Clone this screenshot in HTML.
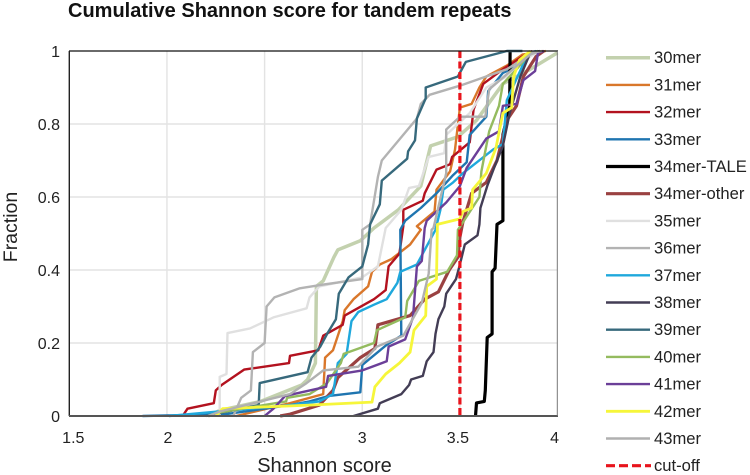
<!DOCTYPE html>
<html>
<head>
<meta charset="utf-8">
<style>
html,body{margin:0;padding:0;background:#fff;}
svg{display:block;}
text{font-family:"Liberation Sans",sans-serif;fill:#222;}
</style>
</head>
<body>
<svg id="chart" width="750" height="475" viewBox="0 0 750 475" xmlns="http://www.w3.org/2000/svg">
<text x="68" y="17" font-size="20" font-weight="bold" style="fill:#111">Cumulative Shannon score for tandem repeats</text>
<text x="324.5" y="472" font-size="20" text-anchor="middle">Shannon score</text>
<text transform="translate(17,227) rotate(-90)" font-size="19.5" text-anchor="middle">Fraction</text>
<g id="grid"></g>
<g id="series"></g>
<g id="frame"></g>
<g id="ticks"></g>
<g id="legend"></g>
</svg>
<script>
const xTicks = [1.5, 2, 2.5, 3, 3.5, 4];
const yTicks = [0, 0.2, 0.4, 0.6, 0.8, 1];
const cutoffValue = 3.5;
const labels = ["30mer","31mer","32mer","33mer","34mer-TALE","34mer-other","35mer","36mer","37mer","38mer","39mer","40mer","41mer","42mer","43mer"];
const mer30 = [[2.21,0],[2.27,.015],[2.48,.04],[2.69,.085],[2.72,.1],[2.76,.145],[2.765,.355],[2.8,.37],[2.855,.435],[2.875,.455],[2.99,.48],[3.06,.515],[3.185,.565],[3.3,.63],[3.35,.74],[3.49,.765],[3.585,.81],[3.72,.91],[3.86,.95],[4,.995]];
const mer31 = [[2.355,0],[2.45,.012],[2.63,.035],[2.8,.06],[2.81,.16],[2.85,.18],[2.9,.26],[2.91,.29],[2.955,.32],[3.03,.355],[3.05,.395],[3.09,.415],[3.15,.43],[3.245,.47],[3.3,.51],[3.28,.52],[3.37,.56],[3.38,.62],[3.45,.67],[3.475,.73],[3.5,.845],[3.56,.855],[3.6,.9],[3.635,.93],[3.74,.96],[3.82,.99],[3.94,1]];
const mer32 = [[2.08,0],[2.105,.02],[2.24,.035],[2.25,.07],[2.28,.085],[2.395,.127],[2.625,.145],[2.63,.165],[2.775,.18],[2.8,.22],[2.9,.25],[2.91,.275],[3.06,.32],[3.12,.345],[3.135,.41],[3.19,.445],[3.21,.52],[3.21,.565],[3.31,.59],[3.32,.61],[3.38,.675],[3.45,.69],[3.46,.71],[3.55,.75],[3.57,.84],[3.62,.91],[3.72,.95],[3.82,.985],[3.87,1]];
const mer33 = [[1.875,0],[2.3,.005],[2.63,.03],[2.73,.04],[2.83,.055],[2.99,.065],[3,.14],[3.125,.195],[3.2,.22],[3.195,.51],[3.22,.535],[3.3,.57],[3.38,.61],[3.465,.66],[3.535,.695],[3.55,.77],[3.635,.82],[3.645,.89],[3.72,.94],[3.82,.965],[3.86,.995],[3.89,1]];
const mer34tale = [[3.58,0],[3.585,.036],[3.625,.04],[3.63,.07],[3.64,.215],[3.665,.225],[3.665,.395],[3.68,.405],[3.69,.525],[3.72,.535],[3.72,.77],[3.755,.85],[3.757,1]];
const mer34other = [[2.58,0],[2.63,.005],[2.78,.03],[2.85,.07],[2.875,.105],[2.99,.16],[3.065,.185],[3.08,.25],[3.245,.275],[3.32,.32],[3.39,.34],[3.445,.4],[3.49,.435],[3.5,.49],[3.515,.53],[3.56,.61],[3.635,.64],[3.69,.7],[3.74,.81],[3.79,.85],[3.825,.93],[3.89,.985],[3.93,1]];
const mer35 = [[2.27,0],[2.27,.107],[2.305,.115],[2.31,.227],[2.425,.24],[2.545,.27],[2.715,.295],[2.73,.325],[2.78,.355],[3,.38],[3.04,.395],[3.08,.41],[3.12,.515],[3.2,.565],[3.24,.625],[3.29,.63],[3.34,.71],[3.42,.72],[3.43,.77],[3.55,.83],[3.635,.9],[3.74,.93],[3.86,.985],[3.91,1]];
const mer36 = [[2.34,0],[2.36,.025],[2.38,.05],[2.43,.07],[2.44,.175],[2.5,.2],[2.51,.3],[2.55,.325],[2.68,.35],[2.8,.36],[3,.375],[3,.51],[3.04,.525],[3.08,.655],[3.1,.7],[3.28,.815],[3.3,.855],[3.345,.88],[3.5,.905],[3.74,.95],[3.86,.99],[3.91,1]];
const mer37 = [[2.01,0],[2.63,.03],[2.78,.04],[2.85,.06],[2.875,.145],[2.92,.17],[2.945,.26],[2.98,.285],[3.06,.305],[3.125,.32],[3.18,.365],[3.195,.395],[3.28,.415],[3.375,.51],[3.4,.565],[3.415,.62],[3.465,.64],[3.515,.665],[3.67,.73],[3.72,.745],[3.74,.865],[3.825,.965],[3.86,.995],[3.9,1]];
const mer38 = [[2.955,0],[3.08,.02],[3.09,.035],[3.2,.06],[3.24,.085],[3.25,.1],[3.31,.11],[3.33,.15],[3.365,.175],[3.375,.225],[3.39,.265],[3.42,.3],[3.43,.335],[3.48,.375],[3.5,.415],[3.525,.47],[3.59,.495],[3.6,.525],[3.605,.57],[3.64,.63],[3.675,.68],[3.72,.74],[3.755,.83],[3.81,.93],[3.86,.995],[3.91,1]];
const mer39 = [[2.2,0],[2.47,.03],[2.475,.09],[2.72,.12],[2.74,.16],[2.785,.19],[2.82,.225],[2.865,.265],[2.88,.335],[2.93,.38],[3,.41],[3.03,.47],[3.04,.525],[3.09,.58],[3.1,.645],[3.23,.705],[3.235,.725],[3.27,.755],[3.28,.815],[3.325,.87],[3.325,.9],[3.49,.93],[3.53,.97],[3.74,1],[3.82,1]];
const mer40 = [[2.27,.01],[2.61,.04],[2.615,.05],[2.73,.06],[2.82,.09],[2.89,.145],[2.905,.17],[3.06,.2],[3.075,.235],[3.22,.27],[3.23,.315],[3.29,.37],[3.435,.395],[3.485,.44],[3.49,.51],[3.515,.53],[3.6,.6],[3.61,.67],[3.635,.74],[3.65,.78],[3.7,.85],[3.72,.91],[3.79,.95],[3.86,.995],[3.9,1]];
const mer41 = [[2.5,0],[2.545,.02],[2.605,.055],[2.815,.08],[2.825,.11],[3,.125],[3.125,.15],[3.135,.19],[3.22,.21],[3.26,.27],[3.28,.41],[3.305,.425],[3.32,.515],[3.33,.535],[3.43,.585],[3.5,.63],[3.535,.68],[3.635,.76],[3.7,.78],[3.72,.85],[3.79,.855],[3.825,.92],[3.885,.945],[3.9,.995],[3.93,1]];
const mer42 = [[2.25,0],[2.285,.02],[2.73,.03],[3.05,.038],[3.065,.08],[3.12,.115],[3.19,.145],[3.245,.175],[3.265,.235],[3.325,.275],[3.33,.355],[3.38,.375],[3.385,.525],[3.5,.54],[3.515,.56],[3.56,.57],[3.565,.62],[3.635,.665],[3.685,.735],[3.72,.83],[3.765,.845],[3.775,.93],[3.805,.975],[3.86,1]];
const mer43 = [[2.21,0],[2.27,.012],[2.63,.06],[2.715,.09],[2.8,.125],[2.98,.135],[3.075,.19],[3.21,.22],[3.305,.31],[3.34,.39],[3.355,.51],[3.365,.515],[3.43,.665],[3.43,.785],[3.5,.82],[3.63,.82],[3.65,.895],[3.77,.95],[3.87,.995],[3.92,1]];
const seriesData = [mer30,mer31,mer32,mer33,mer34tale,mer34other,mer35,mer36,mer37,mer38,mer39,mer40,mer41,mer42,mer43];
const colors = ["#c3d1ae","#d9772b","#b3121f","#1f75b0","#000000","#9a4141","#e0e0e0","#b3b3b3","#1fa8dc","#433d55","#37697c","#94bb5f","#6b3f98","#f6f63a","#b0b0b0"];
const widths = [3.5,2.4,2.4,2.4,3.2,3.2,2.4,2.4,2.4,2.4,2.4,2.4,2.4,2.8,2.4];
const NS = "http://www.w3.org/2000/svg";
function xScale(v){ return 69.3 + (v - 1.5) * 195.3; }
function yScale(v){ return 416 - v * 365; }
function make(tag, attrs, parent, txt){
  const el = document.createElementNS(NS, tag);
  for (const k in attrs) el.setAttribute(k, attrs[k]);
  if (txt !== undefined) el.textContent = txt;
  parent.appendChild(el);
  return el;
}
function tickOffset(t){
  if (t === 1.5) return 4;
  if (t === 2) return 1;
  if (t === 3.5) return -2;
  if (t === 4) return -3;
  return 0;
}
const gridG = document.getElementById("grid");
const frameG = document.getElementById("frame");
const ticksG = document.getElementById("ticks");
const seriesG = document.getElementById("series");
const legendG = document.getElementById("legend");
xTicks.forEach(function(t){
  if (t > 1.5 && t < 4) {
    const l = make("line",{x1:xScale(t),x2:xScale(t),y1:yScale(1),y2:yScale(0),stroke:"#e3e3e3","stroke-width":1.4},gridG);
    
    
  }
  const lab = make("text",{x:xScale(t) + tickOffset(t),y:443,"font-size":16,"text-anchor":"middle"},ticksG,String(t));
  
  
});
yTicks.forEach(function(t){
  if (t > 0 && t < 1) {
    const l = make("line",{x1:xScale(1.5),x2:xScale(4),y1:yScale(t),y2:yScale(t),stroke:"#e3e3e3","stroke-width":1.4},gridG);
    
    
  }
  const lab = make("text",{x:60,y:yScale(t) + 6,"font-size":16,"text-anchor":"end"},ticksG,String(t));
  
  
});
seriesData.forEach(function(pts, i){
  const d = pts.map(function(p){ return xScale(p[0]).toFixed(1) + "," + yScale(p[1]).toFixed(1); }).join(" ");
  const line = make("polyline",{points:d,fill:"none",stroke:colors[i],"stroke-width":widths[i],"stroke-linejoin":"round"},seriesG);
  
  
});
const cutLine = make("line",{x1:xScale(cutoffValue),x2:xScale(cutoffValue),y1:yScale(1),y2:yScale(0),stroke:"#e8141c","stroke-width":3.2,"stroke-dasharray":"7 3.5"},seriesG);


const r1 = make("line",{x1:69,x2:558,y1:51,y2:51,stroke:"#111","stroke-width":1.2},frameG);


const r2 = make("line",{x1:69.3,x2:69.3,y1:51,y2:416,stroke:"#222","stroke-width":1.4},frameG);


const r3 = make("line",{x1:69,x2:558,y1:416,y2:416,stroke:"#555","stroke-width":2},frameG);


const r4 = make("line",{x1:557.3,x2:557.3,y1:51,y2:416,stroke:"#777","stroke-width":1},frameG);


labels.forEach(function(name, i){
  const y = 57.7 + i * 27.2;
  const key = make("line",{x1:606,x2:650,y1:y,y2:y,stroke:colors[i],"stroke-width":Math.max(widths[i],2.4)},legendG);
  
  
  const t = make("text",{x:654,y:y + 5.5,"font-size":16.6},legendG,name);
  
  
});
const cutY = 57.7 + 15 * 27.2;
const cutKey = make("line",{x1:606,x2:651,y1:cutY,y2:cutY,stroke:"#e8141c","stroke-width":3.2,"stroke-dasharray":"9 4"},legendG);


const cutText = make("text",{x:654,y:cutY + 5.5,"font-size":16.6},legendG,"cut-off");


</script>
</body>
</html>
